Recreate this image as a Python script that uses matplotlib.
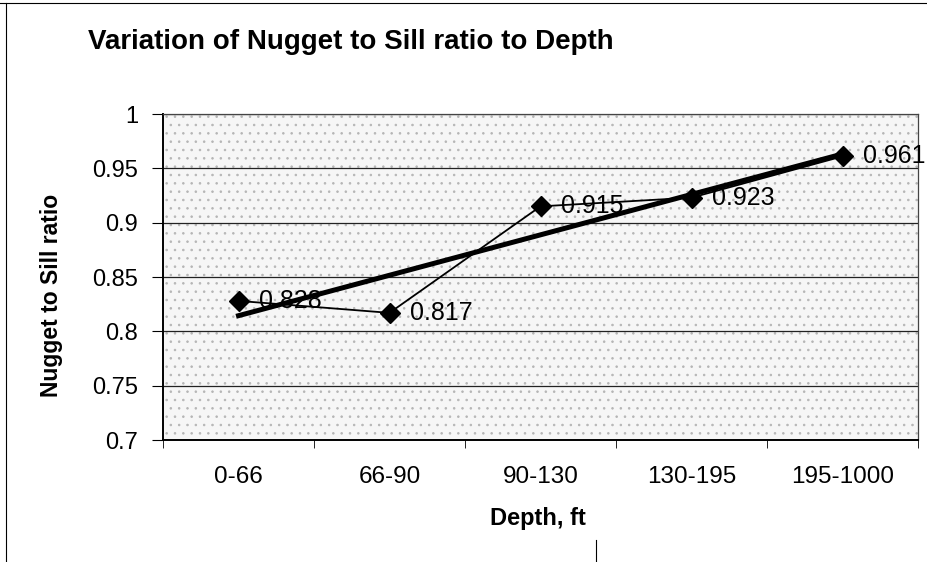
import matplotlib
matplotlib.use('Agg')
import matplotlib.pyplot as plt
from matplotlib.patches import Rectangle
import numpy as np

plt.rcParams['font.family'] = ['Liberation Sans', 'DejaVu Sans']
plt.rcParams['hatch.linewidth'] = 0.6

depths = ['0-66', '66-90', '90-130', '130-195', '195-1000']
ratios = [0.828, 0.817, 0.915, 0.923, 0.961]

W, H = 927, 562
fig = plt.figure(figsize=(W / 100, H / 100), dpi=100)
ax = fig.add_axes([163 / W, 1 - 440 / H, (918 - 163) / W, (440 - 114) / H])

x = np.arange(len(depths))

# speckled plot area, like the old Excel fill
ax.set_facecolor('#f6f6f6')
ax.add_patch(Rectangle((0, 0), 1, 1, transform=ax.transAxes, facecolor='none',
                       edgecolor='#b5b5b5', hatch='..', lw=0, zorder=0))

# linear trendline
slope, intercept = np.polyfit(x, ratios, 1)
ax.plot(x, slope * x + intercept, color='black', lw=3.6, zorder=3)

ax.plot(x, ratios, color='black', lw=1.3, marker='D', markersize=10, zorder=4)
for xi, yi in zip(x, ratios):
    ax.annotate(f'{yi:.3f}', (xi, yi), xytext=(15, 0), textcoords='offset points',
                va='center', ha='left', fontsize=18, zorder=5)

ax.set_xlim(-0.5, len(depths) - 0.5)
ax.set_ylim(0.7, 1.0)
ax.set_yticks(np.arange(0.7, 1.001, 0.05))
ax.set_yticklabels(['0.7', '0.75', '0.8', '0.85', '0.9', '0.95', '1'])
ax.set_xticks(x)
ax.set_xticklabels(depths)
ax.set_xticks(np.arange(-0.5, len(depths)), minor=True)
ax.tick_params(axis='x', which='major', length=0, pad=19, labelsize=17.5)
ax.tick_params(axis='x', which='minor', length=6, direction='out')
ax.tick_params(axis='y', length=8, direction='out', labelsize=17, pad=10)
ax.grid(axis='y', color='#222222', lw=0.9)
ax.set_axisbelow(True)

for side in ['top', 'right']:
    ax.spines[side].set_color('#444444')
    ax.spines[side].set_linewidth(0.9)
ax.spines['left'].set_linewidth(1.4)
ax.spines['bottom'].set_linewidth(1.4)

fig.text(538 / W, 1 - 519 / H, 'Depth, ft', fontsize=17, fontweight='bold',
         ha='center', va='center')
fig.text(52 / W, 1 - 295 / H, 'Nugget to Sill ratio', fontsize=16.5, fontweight='bold',
         ha='center', va='center', rotation=90)
fig.text(88 / W, 1 - 42 / H, 'Variation of Nugget to Sill ratio to Depth',
         fontsize=20, fontweight='bold', ha='left', va='center')

# chart frame lines
fig.add_artist(plt.Line2D([0, 1], [1 - 3 / H, 1 - 3 / H], color='black', lw=0.8))
fig.add_artist(plt.Line2D([6 / W, 6 / W], [0, 1 - 3 / H], color='black', lw=0.8))
fig.add_artist(plt.Line2D([596 / W, 596 / W], [0, 22 / H], color='black', lw=0.8))

fig.savefig('out.png', dpi=100)
